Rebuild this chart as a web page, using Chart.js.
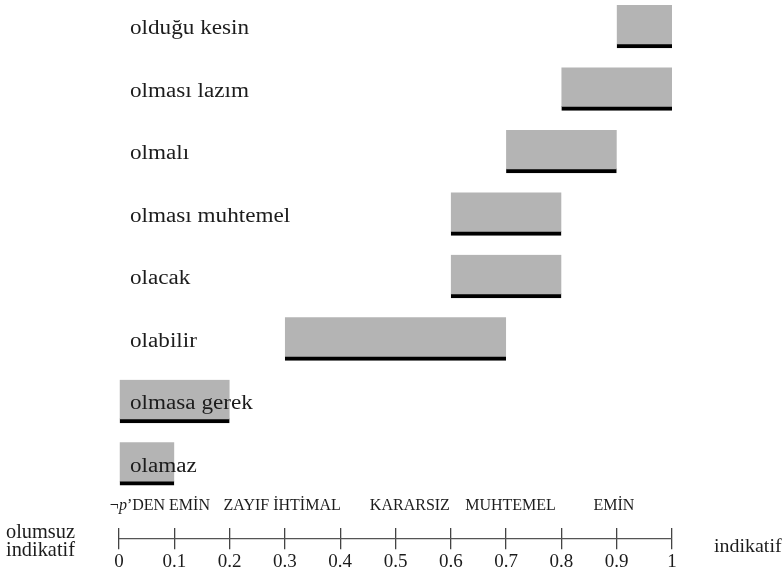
<!DOCTYPE html>
<html>
<head>
<meta charset="utf-8">
<script src="https://cdn.jsdelivr.net/npm/chart.js@4.4.1/dist/chart.umd.min.js"></script>
<style>
  html, body { margin: 0; padding: 0; background: #ffffff; }
  #wrap { width: 782px; height: 575px; position: relative; }
</style>
</head>
<body>
<div id="wrap"><canvas id="c"></canvas></div>
<script>
// ---- data ----
const categories = ['olduğu kesin', 'olması lazım', 'olmalı', 'olması muhtemel', 'olacak', 'olabilir', 'olmasa gerek', 'olamaz'];
const rangeStart = [0.9, 0.8, 0.7, 0.6, 0.6, 0.3, 0.0, 0.0];
const rangeEnd   = [1.0, 1.0, 0.9, 0.8, 0.8, 0.7, 0.2, 0.1];
const tickLabels = ['0', '0.1', '0.2', '0.3', '0.4', '0.5', '0.6', '0.7', '0.8', '0.9', '1'];
const certaintyLabels = ['¬p’DEN EMİN', 'ZAYIF İHTİMAL', 'KARARSIZ', 'MUHTEMEL', 'EMİN'];
const certaintyAt = [0.074, 0.295, 0.526, 0.708, 0.895];
const leftAxisLabel = ['olumsuz', 'indikatif'];
const rightAxisLabel = 'indikatif';

const SERIF = '"Liberation Serif", "DejaVu Serif", serif';
const TEXT = '#1c1c1c';
const TICK_LEN = 21;

const points = categories.map((c, i) => ({ x: [rangeStart[i], rangeEnd[i]], y: i }));

function stretchedText(ctx, text, x, y, font, sx) {
  ctx.save();
  ctx.font = font;
  ctx.translate(x, y);
  ctx.scale(sx, 1);
  ctx.fillText(text, 0, 0);
  ctx.restore();
}

const overlay = {
  id: 'overlay',
  afterDatasetsDraw(chart) {
    const ctx = chart.ctx;
    const xs = chart.scales.x, ys = chart.scales.y;
    const area = chart.chartArea;
    ctx.save();
    // bar labels
    ctx.fillStyle = TEXT;
    ctx.textAlign = 'left';
    ctx.textBaseline = 'alphabetic';
    categories.forEach((c, i) => {
      stretchedText(ctx, c, xs.getPixelForValue(0) + 11, ys.getPixelForValue(i) + 8, '20.5px ' + SERIF, 1.13);
    });
    // axis line through the tick marks
    const axisY = area.bottom + TICK_LEN / 2;
    ctx.strokeStyle = '#555';
    ctx.lineWidth = 1.3;
    ctx.beginPath();
    ctx.moveTo(xs.getPixelForValue(0), axisY);
    ctx.lineTo(xs.getPixelForValue(1), axisY);
    ctx.stroke();
    // certainty labels
    ctx.fillStyle = TEXT;
    ctx.textBaseline = 'alphabetic';
    const baseY = area.bottom - 18;
    const F = '16px ' + SERIF;
    certaintyLabels.forEach((lab, i) => {
      const cx = xs.getPixelForValue(certaintyAt[i]);
      if (lab.startsWith('¬p')) {
        const parts = [
          { t: '¬', f: F },
          { t: 'p', f: 'italic ' + F },
          { t: lab.slice(2), f: F }
        ];
        let w = 0;
        parts.forEach(p => { ctx.font = p.f; p.w = ctx.measureText(p.t).width; w += p.w; });
        let x = cx - w / 2;
        ctx.textAlign = 'left';
        parts.forEach(p => { ctx.font = p.f; ctx.fillText(p.t, x, baseY); x += p.w; });
      } else {
        ctx.font = F;
        ctx.textAlign = 'center';
        ctx.fillText(lab, cx, baseY);
      }
    });
    // side labels
    ctx.textAlign = 'left';
    stretchedText(ctx, leftAxisLabel[0], 6, axisY - 1, '21px ' + SERIF, 0.97);
    stretchedText(ctx, leftAxisLabel[1], 6, axisY + 17, '21px ' + SERIF, 0.97);
    stretchedText(ctx, rightAxisLabel, 714, axisY + 13, '19px ' + SERIF, 1.05);
    ctx.restore();
  }
};

new Chart(document.getElementById('c'), {
  type: 'bar',
  data: {
    datasets: [{
      data: points,
      backgroundColor: '#b4b4b4',
      borderColor: '#000000',
      borderWidth: { top: 0, right: 0, bottom: 4, left: 0 },
      borderSkipped: false,
      barThickness: 43
    }]
  },
  options: {
    indexAxis: 'y',
    responsive: true,
    maintainAspectRatio: false,
    animation: false,
    layout: { padding: { left: 119, right: 110, top: 0, bottom: 1 } },
    plugins: { legend: { display: false }, tooltip: { enabled: false } },
    scales: {
      y: {
        type: 'linear',
        display: false,
        offset: false,
        grid: { offset: false },
        reverse: true,
        min: -0.4235,
        max: 8.031
      },
      x: {
        type: 'linear',
        position: 'bottom',
        min: 0,
        max: 1,
        offset: false,
        border: { display: false },
        grid: {
          drawOnChartArea: false,
          drawTicks: true,
          tickLength: TICK_LEN,
          color: '#444',
          lineWidth: 1.3
        },
        ticks: {
          stepSize: 0.1,
          padding: 1,
          color: TEXT,
          font: { family: SERIF, size: 19 },
          maxRotation: 0,
          autoSkip: false,
          callback: (v, i) => tickLabels[i]
        }
      }
    }
  },
  plugins: [overlay]
});
</script>
</body>
</html>
